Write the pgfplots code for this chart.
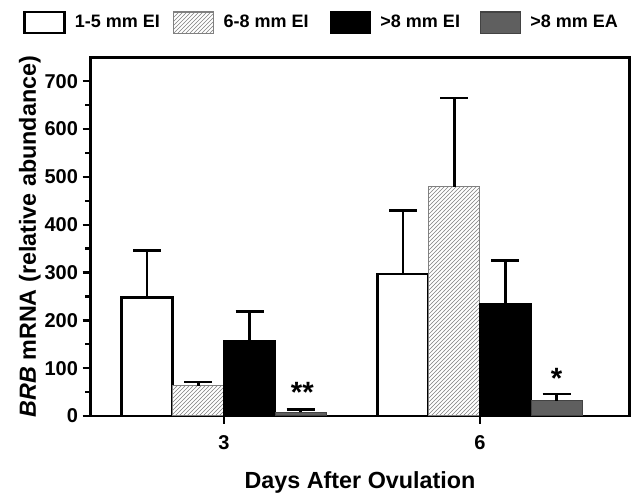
\documentclass[border=0pt]{standalone}
\usepackage{pgfplots}
\pgfplotsset{compat=1.18}
\usepackage{pgfplotstable}
\usepackage{fontspec}
\setmainfont{Liberation Sans}
\usetikzlibrary{patterns}

\definecolor{eagray}{HTML}{5F5F5F}

\pgfplotsset{
  boxleg/.style={legend image code/.code={\draw[##1] (0pt,-7.9pt) rectangle (30pt,7.9pt);}},
}

% day, mean, upper error
\pgfplotstableread{
day mean err
3 248 98
6 297 133
}\smallEI
\pgfplotstableread{
day mean err
3 63 8
6 479 186
}\midEI
\pgfplotstableread{
day mean err
3 157 62
6 236 89
}\bigEI
\pgfplotstableread{
day mean err
3 8 5
6 32 14
}\bigEA

\begin{document}
\begin{tikzpicture}
  \useasboundingbox (-68pt,-62.25pt) rectangle (412pt,312pt);
  \begin{axis}[
    at={(0,0)},anchor=south west,
    scale only axis,
    width=404pt,height=269pt,
    xmin=1.438,xmax=7.752,ymin=0,ymax=750,
    ybar,bar width=0.6,
    xtick={3,6},
    ytick={0,100,...,700},
    minor ytick={50,150,...,650},
    tick align=outside,
    xtick pos=bottom,ytick pos=left,
    major tick length=6pt,minor tick length=4pt,
    axis line style={line width=2pt},
    every tick/.style={line width=1.8pt,black},
    /pgf/number format/assume math mode=true,
    tick label style={font=\bfseries\fontsize{15}{18}\selectfont},
    xticklabel style={yshift=-5pt},
    label style={font=\bfseries\fontsize{17.5}{20}\selectfont},
    xlabel={Days After Ovulation},
    ylabel={\textit{BRB} mRNA (relative abundance)},
    xlabel style={yshift=-10pt},
    ylabel style={yshift=-4pt},
    legend columns=4,
    legend style={draw=none,fill=none,at={(axis description cs:-0.1262,1.097)},anchor=west,
      font=\bfseries\fontsize{13.5}{16}\selectfont,column sep=5pt,inner sep=0pt,
      /tikz/column 2/.style={column sep=8pt},
      /tikz/column 4/.style={column sep=14pt},
      /tikz/column 6/.style={column sep=13pt}},
    error bars/error bar style={line width=2pt,black},
    error bars/error mark options={rotate=90,mark size=10.5pt,line width=2pt,black},
  ]
    \addlegendimage{boxleg,fill=white,draw=black,line width=2pt}
    \addlegendentry{1-5 mm EI}
    \addlegendimage{boxleg,fill=white,draw=gray,line width=0.8pt,postaction={pattern=north east lines,pattern color=gray}}
    \addlegendentry{6-8 mm EI}
    \addlegendimage{boxleg,fill=black,draw=black,line width=0.8pt}
    \addlegendentry{>8 mm EI}
    \addlegendimage{boxleg,fill=eagray,draw=eagray!70!black,line width=0.8pt}
    \addlegendentry{>8 mm EA}

    \addplot[forget plot,bar shift=-0.9,fill=white,draw=black,line width=2pt,
      error bars/.cd,y dir=plus,y explicit]
      table[x=day,y=mean,y error=err]{\smallEI};
    \addplot[forget plot,bar shift=-0.3,fill=white,draw=gray,line width=0.8pt,
      postaction={pattern=north east lines,pattern color=gray},
      error bars/.cd,y dir=plus,y explicit]
      table[x=day,y=mean,y error=err]{\midEI};
    \addplot[forget plot,bar shift=0.3,fill=black,draw=black,line width=0.8pt,
      error bars/.cd,y dir=plus,y explicit]
      table[x=day,y=mean,y error=err]{\bigEI};
    \addplot[forget plot,bar shift=0.9,fill=eagray,draw=eagray!70!black,line width=0.8pt,
      error bars/.cd,y dir=plus,y explicit]
      table[x=day,y=mean,y error=err]{\bigEA};

    \node[font=\bfseries\fontsize{22}{24}\selectfont] at (axis cs:3.92,50) {**};
    \node[font=\bfseries\fontsize{22}{24}\selectfont] at (axis cs:6.9,79) {*};
  \end{axis}
\end{tikzpicture}
\end{document}
